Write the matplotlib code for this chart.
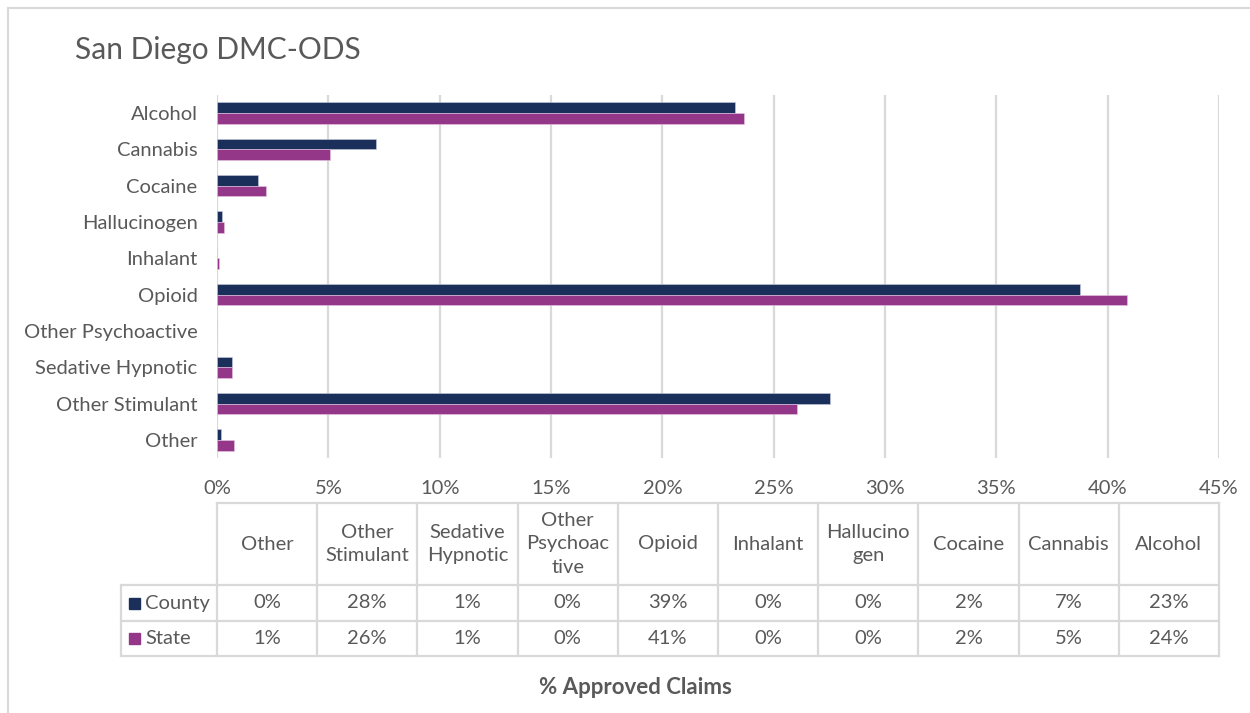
import matplotlib
matplotlib.use("Agg")
import matplotlib.pyplot as plt
from matplotlib.patches import Rectangle
from matplotlib.lines import Line2D
from matplotlib.ticker import FuncFormatter

plt.rcParams['font.family'] = ['Lato', 'DejaVu Sans']

# Substance categories, top to bottom as drawn on the bar chart
categories = ["Alcohol", "Cannabis", "Cocaine", "Hallucinogen", "Inhalant",
              "Opioid", "Other Psychoactive", "Sedative Hypnotic",
              "Other Stimulant", "Other"]
# Share of approved claims (%)
county = [23.27, 7.16, 1.85, 0.21, 0.0, 38.74, 0.0, 0.69, 27.55, 0.20]
state = [23.67, 5.08, 2.22, 0.31, 0.10, 40.89, 0.0, 0.69, 26.06, 0.75]
series_names = ["County", "State"]
# Column headings of the data table (reverse category order, wrapped)
table_headers = ["Other", "Other\nStimulant", "Sedative\nHypnotic",
                 "Other\nPsychoac\ntive", "Opioid", "Inhalant",
                 "Hallucino\ngen", "Cocaine", "Cannabis", "Alcohol"]
x_ticks = [0, 5, 10, 15, 20, 25, 30, 35, 40, 45]

title = "San Diego DMC-ODS"
x_title = "% Approved Claims"

COUNTY_C = "#1b2f5b"
STATE_C = "#943789"
TEXT_C = "#595959"
GRID_C = "#d9d9d9"
FS = 14.5

W, H = 1250, 713
fig = plt.figure(figsize=(W / 100, H / 100), dpi=100)


def fx(px):
    return px / W


def fy(py):
    return 1 - py / H


# Plot area (pixel geometry)
left, right, top, bottom = 217, 1219, 95, 458
ax = fig.add_axes([fx(left), fy(bottom), fx(right) - fx(left), fy(top) - fy(bottom)])

n = len(categories)
pos = list(range(n))
bh = 0.295
ax.barh([p - bh / 2 for p in pos], county, height=bh, color=COUNTY_C,
        edgecolor="#c8cde0", linewidth=0.4, zorder=3)
ax.barh([p + bh / 2 for p in pos], state, height=bh, color=STATE_C,
        edgecolor="#e6c8e2", linewidth=0.4, zorder=3)

ax.set_xlim(0, 45)
ax.set_ylim(n - 0.5, -0.5)
ax.set_xticks(x_ticks)
ax.xaxis.set_major_formatter(FuncFormatter(lambda v, _: f"{v:.0f}%"))
ax.set_yticks(pos)
ax.set_yticklabels(categories)
ax.tick_params(axis="both", length=0, labelsize=FS, colors=TEXT_C)
ax.tick_params(axis="x", pad=16)
ax.tick_params(axis="y", pad=14)
ax.grid(axis="x", color=GRID_C, linewidth=1.6, zorder=0)
for s in ax.spines.values():
    s.set_visible(False)

# Title
fig.text(fx(75), fy(50), title, fontsize=21.5, color=TEXT_C, ha="left", va="center")

# Outer frame (top and left edges)
fig.add_artist(Line2D([fx(8), 1], [fy(8), fy(8)], color=GRID_C, lw=1.5))
fig.add_artist(Line2D([fx(8), fx(8)], [fy(8), 0], color=GRID_C, lw=1.5))

# Data table under the axis
col_w = (right - left) / n
t_top, t_head, t_mid, t_bot = 503, 585, 621, 656
leg_left = 121
LW = 1.6


def hline(x0, x1, y):
    fig.add_artist(Line2D([fx(x0), fx(x1)], [fy(y), fy(y)], color=GRID_C, lw=LW))


def vline(x, y0, y1):
    fig.add_artist(Line2D([fx(x), fx(x)], [fy(y0), fy(y1)], color=GRID_C, lw=LW))


hline(left, right, t_top)
hline(leg_left, right, t_head)
hline(leg_left, right, t_mid)
hline(leg_left, right, t_bot)
vline(leg_left, t_head, t_bot)
for i in range(n + 1):
    vline(left + i * col_w, t_top, t_bot)

rev_county = county[::-1]
rev_state = state[::-1]
for i in range(n):
    cx = left + (i + 0.5) * col_w
    fig.text(fx(cx), fy((t_top + t_head) / 2), table_headers[i], fontsize=FS,
             color=TEXT_C, ha="center", va="center", linespacing=1.45)
    fig.text(fx(cx), fy((t_head + t_mid) / 2), f"{rev_county[i]:.0f}%", fontsize=FS,
             color=TEXT_C, ha="center", va="center")
    fig.text(fx(cx), fy((t_mid + t_bot) / 2), f"{rev_state[i]:.0f}%", fontsize=FS,
             color=TEXT_C, ha="center", va="center")

# Legend keys in the row headers
for name, color, (y0, y1) in zip(series_names, [COUNTY_C, STATE_C],
                                 [(t_head, t_mid), (t_mid, t_bot)]):
    yc = (y0 + y1) / 2
    fig.add_artist(Rectangle((fx(129), fy(yc + 5.5)), fx(11), 11 / H,
                             color=color, transform=fig.transFigure))
    fig.text(fx(145), fy(yc), name, fontsize=FS, color=TEXT_C, ha="left", va="center")

# Axis title
fig.text(fx(635), fy(687), x_title, fontsize=16, color=TEXT_C, fontweight="bold",
         ha="center", va="center")

fig.savefig("out.png", dpi=100)
